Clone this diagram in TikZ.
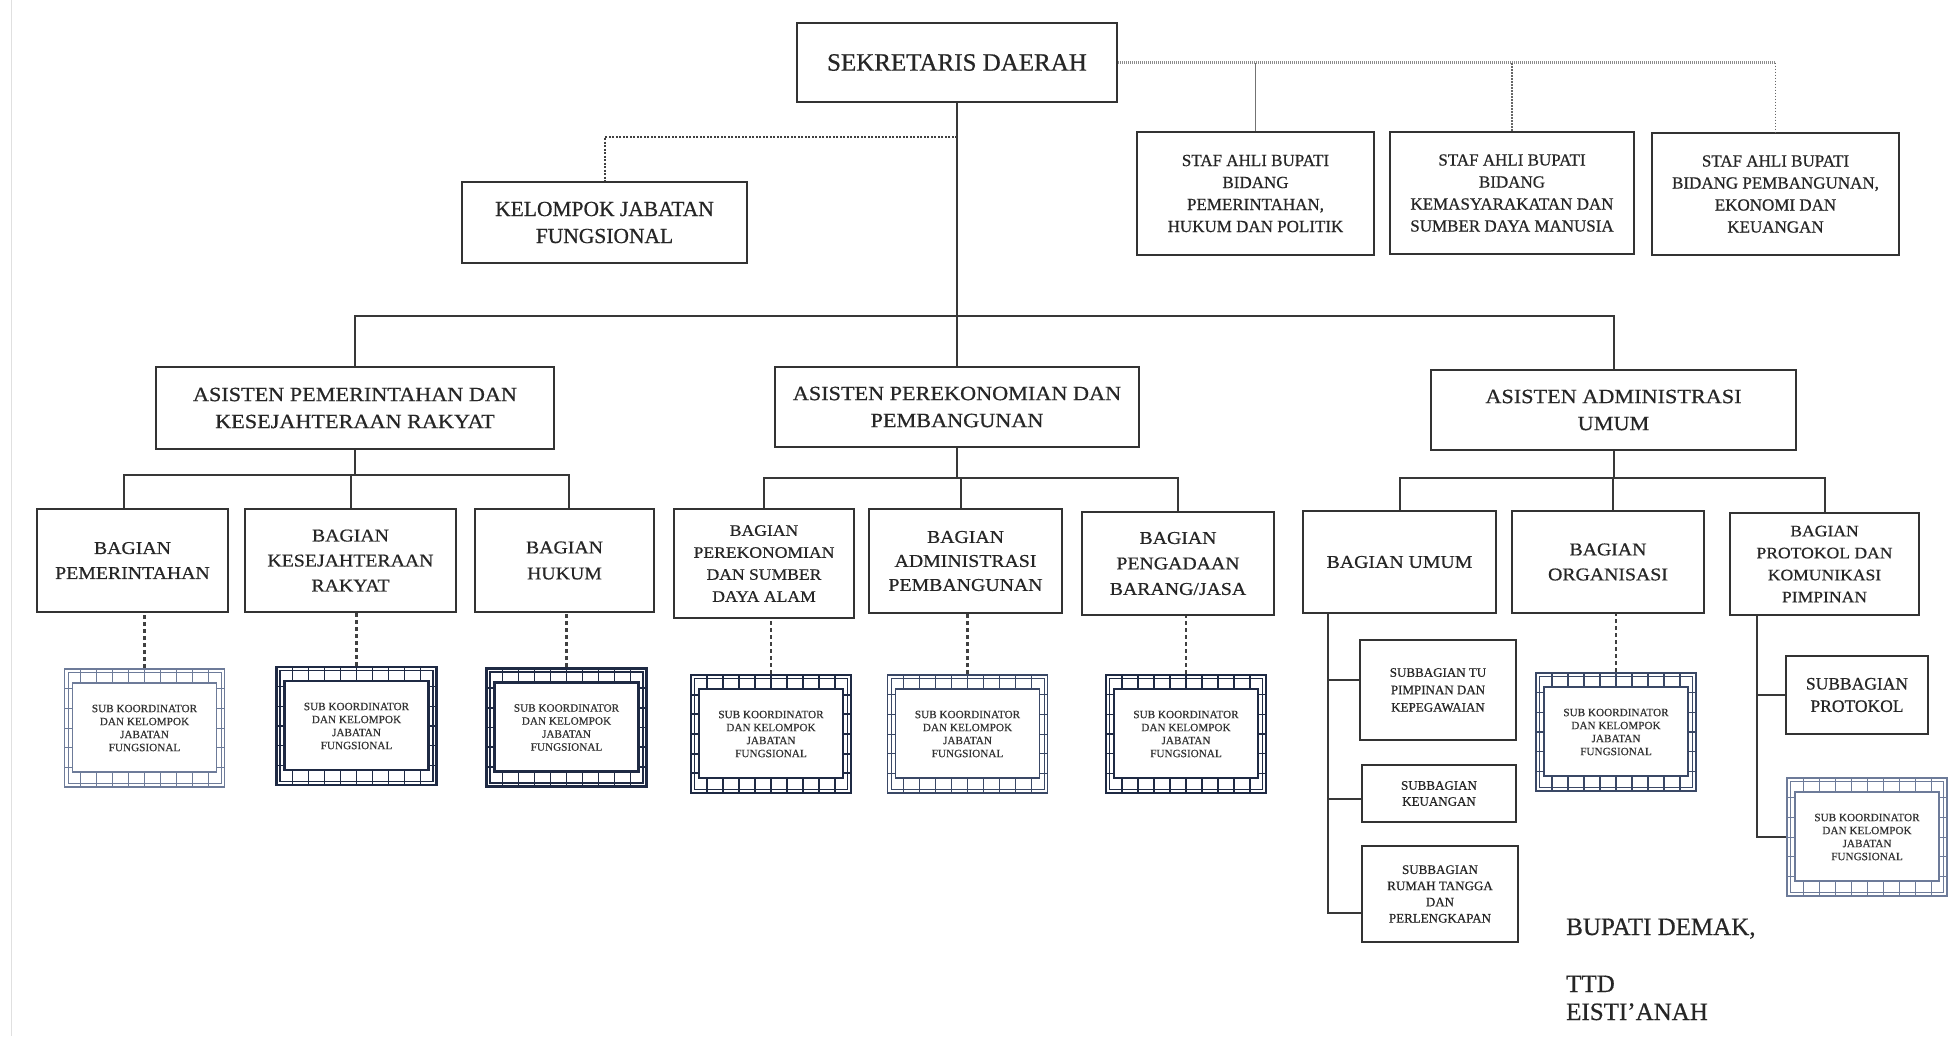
\documentclass[tikz,border=0pt]{standalone}
\usepackage{fontspec}
\setmainfont{Liberation Serif}[FakeBold=0.6]
\newfontfamily\fw[FakeStretch=1.1,FakeBold=0.6]{Liberation Serif}
\usetikzlibrary{calc}
\definecolor{fdark}{HTML}{1F2A44}
\definecolor{fmid}{HTML}{3A4866}
\definecolor{flight}{HTML}{6D7B99}
\tikzset{
  box/.style={draw=black!80, line width=2.2pt, fill=white, align=center, inner sep=0pt, text=black!85},
  bx/.style n args={2}{box, minimum width=#1, minimum height=#2},
  conn/.style={draw=black!78, line width=2pt},
  kdash/.style={draw=black!75, line width=2pt, dash pattern=on 2pt off 1.5pt},
  staffh/.style={draw=black!45, line width=3pt, dash pattern=on 1pt off 1pt},
  staffv/.style={draw=black!60, line width=1.5pt, dash pattern=on 1.5pt off 1.5pt},
  staffs/.style={draw=black!55, line width=1.3pt},
  subd/.style={draw=black!75, line width=2.2pt, dash pattern=on 4pt off 3pt},
  subk/.style n args={3}{draw=#1, line width=#2, fill=white, minimum width=160pt, minimum height=118pt,
    inner sep=0pt, align=center, text=black!80, font=\fontsize{11.2}{13}\selectfont,
    path picture={
      \coordinate (pa) at (path picture bounding box.south west);
      \coordinate (pb) at (path picture bounding box.north east);
      \foreach \i in {1,...,9}{\draw[#1, line width=#3] ($(pa)!\i/10!(pa -| pb)$) -- ($(pa |- pb)!\i/10!(pb)$);}
      \foreach \i in {1,...,5}{\draw[#1, line width=#3] ($(pa)!\i/6!(pa |- pb)$) -- ($(pa -| pb)!\i/6!(pb)$);}
      \draw[#1, line width=#3] ([xshift=3.5pt,yshift=3.5pt]pa) rectangle ([xshift=-3.5pt,yshift=-3.5pt]pb);
      \filldraw[fill=white, draw=#1, line width=#2] ([xshift=8pt,yshift=15pt]pa) rectangle ([xshift=-8pt,yshift=-14pt]pb);
    }},
  fsek/.style={font=\fontsize{25}{30}\selectfont},
  fkel/.style={font=\fontsize{21.5}{27}\selectfont},
  fstaf/.style={font=\fontsize{17}{22}\selectfont},
  fasis/.style={font=\fw\fontsize{20.2}{27}\selectfont},
  fbag/.style={font=\fw\fontsize{18}{#1}\selectfont},
  fbags/.style={font=\fw\fontsize{16}{22}\selectfont},
  fsub/.style={font=\fontsize{13}{#1}\selectfont},
  fsubp/.style={font=\fontsize{17.5}{22.4}\selectfont},
  fsig/.style={font=\fontsize{25}{30}\selectfont, text=black!85, inner sep=0pt}
}
\begin{document}
\begin{tikzpicture}[x=1pt,y=-1pt]
\fill[white] (0,0) rectangle (1953,1036);
\useasboundingbox (0,0) rectangle (1953,1036);
\draw[black!12, line width=1pt] (11,0) -- (11,1036);

% top level
\node[bx={320pt}{79pt}, fsek] (sekda) at (957,62.5) {SEKRETARIS DAERAH};
\node[bx={285pt}{81pt}, fkel] (kel) at (604.5,222.5) {KELOMPOK JABATAN\\FUNGSIONAL};
\node[bx={237pt}{123pt}, fstaf] (st1) at (1255.5,193.5) {STAF AHLI BUPATI\\BIDANG\\PEMERINTAHAN,\\HUKUM DAN POLITIK};
\node[bx={244pt}{122pt}, fstaf] (st2) at (1512,193) {STAF AHLI BUPATI\\BIDANG\\KEMASYARAKATAN DAN\\SUMBER DAYA MANUSIA};
\node[bx={247pt}{122pt}, fstaf] (st3) at (1775.5,194) {STAF AHLI BUPATI\\BIDANG PEMBANGUNAN,\\EKONOMI DAN\\KEUANGAN};

% asisten
\node[bx={398pt}{82pt}, fasis] (a1) at (355,408) {ASISTEN PEMERINTAHAN DAN\\KESEJAHTERAAN RAKYAT};
\node[bx={364pt}{80pt}, fasis] (a2) at (957,407) {ASISTEN PEREKONOMIAN DAN\\PEMBANGUNAN};
\node[bx={365pt}{80pt}, fasis] (a3) at (1613.5,410) {ASISTEN ADMINISTRASI\\UMUM};

% bagian
\node[bx={191pt}{103pt}, fbag=25] (b1) at (132.5,560.5) {BAGIAN\\PEMERINTAHAN};
\node[bx={211pt}{103pt}, fbag=25] (b2) at (350.5,560.5) {BAGIAN\\KESEJAHTERAAN\\RAKYAT};
\node[bx={179pt}{103pt}, fbag=26] (b3) at (564.5,560.5) {BAGIAN\\HUKUM};
\node[bx={180pt}{109pt}, fbags] (b4) at (764,563.5) {BAGIAN\\PEREKONOMIAN\\DAN SUMBER\\DAYA ALAM};
\node[bx={193pt}{104pt}, fbag=24] (b5) at (965.5,561) {BAGIAN\\ADMINISTRASI\\PEMBANGUNAN};
\node[bx={192pt}{103pt}, fbag=25.5] (b6) at (1178,563.5) {BAGIAN\\PENGADAAN\\BARANG/JASA};
\node[bx={193pt}{102pt}, fbag=24] (b7) at (1399.5,562) {BAGIAN UMUM};
\node[bx={192pt}{102pt}, fbag=25] (b8) at (1608,562) {BAGIAN\\ORGANISASI};
\node[bx={189pt}{102pt}, fbags] (b9) at (1824.5,564) {BAGIAN\\PROTOKOL DAN\\KOMUNIKASI\\PIMPINAN};

% sub koordinator boxes
\node[subk={flight}{1.6pt}{0.8pt}] (s1) at (144.5,728) {SUB KOORDINATOR\\DAN KELOMPOK\\JABATAN\\FUNGSIONAL};
\node[subk={fdark}{2.2pt}{1.4pt}] (s2) at (356.5,726) {SUB KOORDINATOR\\DAN KELOMPOK\\JABATAN\\FUNGSIONAL};
\node[subk={fdark}{2.6pt}{1.8pt}] (s3) at (566.5,727.5) {SUB KOORDINATOR\\DAN KELOMPOK\\JABATAN\\FUNGSIONAL};
\node[subk={fdark}{2.6pt}{1.8pt}] (s4) at (771,734) {SUB KOORDINATOR\\DAN KELOMPOK\\JABATAN\\FUNGSIONAL};
\node[subk={fmid}{1.8pt}{0.9pt}] (s5) at (967.5,734) {SUB KOORDINATOR\\DAN KELOMPOK\\JABATAN\\FUNGSIONAL};
\node[subk={fdark}{2.2pt}{1.4pt}] (s6) at (1186,734) {SUB KOORDINATOR\\DAN KELOMPOK\\JABATAN\\FUNGSIONAL};
\node[subk={fmid}{2pt}{1.1pt}] (s8) at (1616,732) {SUB KOORDINATOR\\DAN KELOMPOK\\JABATAN\\FUNGSIONAL};
\node[subk={flight}{1.8pt}{0.9pt}] (s9) at (1867,837) {SUB KOORDINATOR\\DAN KELOMPOK\\JABATAN\\FUNGSIONAL};

% subbagian
\node[bx={156pt}{100pt}, fsub=17.4] (sb1) at (1438,690) {SUBBAGIAN TU\\PIMPINAN DAN\\KEPEGAWAIAN};
\node[bx={154pt}{57pt}, fsub=16] (sb2) at (1439,793.5) {SUBBAGIAN\\KEUANGAN};
\node[bx={156pt}{96pt}, fsub=16.2] (sb3) at (1440,894) {SUBBAGIAN\\RUMAH TANGGA\\DAN\\PERLENGKAPAN};
\node[bx={142pt}{78pt}, fsubp] (sp) at (1857,695) {SUBBAGIAN\\PROTOKOL};

% signature
\node[fsig, anchor=base west] (sig1) at (1566,935) {BUPATI DEMAK,};
\node[fsig, anchor=base west] (sig2) at (1566,992) {TTD};
\node[fsig, anchor=base west] (sig3) at (1566,1020) {EISTI'ANAH};

% connectors: top
\draw[conn] (sekda.south) -- (a2.north);
\coordinate (kj) at (957,137);
\draw[kdash] (kj) -| (kel.north);
\coordinate (sh3) at (st3.north |- sekda.east);
\draw[staffh] (sekda.east) -- (sh3);
\draw[staffv] (sh3) -- (st3.north);
\draw[staffv] (st2.north) -- (st2.north |- sekda.east);
\draw[staffs] (st1.north) -- (st1.north |- sekda.east);

\coordinate (bar) at (957,316);
\draw[conn] (a1.north) |- (bar) -| (a3.north);

% level 3
\coordinate (l3a) at (355,475);
\coordinate (b1n) at ([xshift=-9pt]b1.north);
\coordinate (b3n) at ([xshift=4.5pt]b3.north);
\draw[conn] (a1.south) -- (l3a);
\draw[conn] (b1n) |- (l3a) -| (b3n);
\draw[conn] (b2.north) -- (b2.north |- l3a);

\coordinate (l3b) at (957,478);
\coordinate (b5n) at ([xshift=-5pt]b5.north);
\draw[conn] (a2.south) -- (l3b);
\draw[conn] (b4.north) |- (l3b) -| (b6.north);
\draw[conn] (b5n) -- (b5n |- l3b);

\coordinate (l3c) at (1613.5,478);
\coordinate (b8n) at ([xshift=5pt]b8.north);
\draw[conn] (a3.south) -- (l3c);
\draw[conn] (b7.north) |- (l3c) -| (b9.north);
\draw[conn] (b8n) -- (b8n |- l3c);

% dashed drops to sub koordinator
\draw[subd] (s1.north) -- (s1.north |- b1.south);
\draw[subd] (s2.north) -- (s2.north |- b2.south);
\draw[subd] (s3.north) -- (s3.north |- b3.south);
\draw[subd] (s4.north) -- (s4.north |- b4.south);
\draw[subd] (s5.north) -- (s5.north |- b5.south);
\draw[subd] (s6.north) -- (s6.north |- b6.south);
\draw[subd] (s8.north) -- (s8.north |- b8.south);

% bagian umum branches
\coordinate (u0) at ([xshift=-71.5pt]b7.south);
\coordinate (sb1w) at ([yshift=10pt]sb1.west);
\coordinate (sb2w) at ([yshift=-5pt]sb2.west);
\coordinate (sb3w) at ([yshift=-19pt]sb3.west);
\draw[conn] (u0) |- (sb3w);
\draw[conn] (sb1w) -- (u0 |- sb1w);
\draw[conn] (sb2w) -- (u0 |- sb2w);

% protokol branches
\coordinate (p0) at ([xshift=-67.5pt]b9.south);
\draw[conn] (p0) |- (s9.west);
\draw[conn] (sp.west) -- (p0 |- sp.west);
\end{tikzpicture}
\end{document}
